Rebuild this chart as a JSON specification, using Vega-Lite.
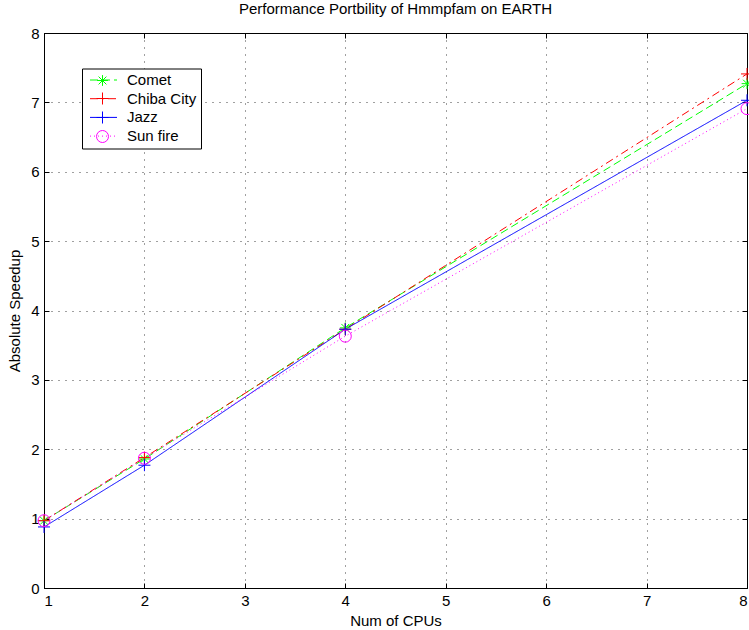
{
  "$schema": "https://vega.github.io/schema/vega-lite/v6.json",
  "width": 703,
  "height": 555,
  "autosize": {"type": "none"},
  "padding": {"left": 44, "top": 33, "right": 2, "bottom": 42},
  "title": {"text": "Performance Portbility of Hmmpfam on EARTH", "fontSize": 15, "fontWeight": "normal", "font": "Liberation Sans", "color": "black", "offset": 9},
  "config": {
    "view": {"stroke": "black", "strokeWidth": 1},
    "axis": {
      "labelFont": "Liberation Sans", "labelFontSize": 15, "labelColor": "black",
      "titleFont": "Liberation Sans", "titleFontSize": 15, "titleFontWeight": "normal", "titleColor": "black",
      "domainColor": "black", "tickColor": "black", "tickSize": -5,
      "gridColor": "black", "gridDash": [1, 6], "gridOpacity": 0.75
    }
  },
  "data": {
    "values": [
      {"cpus": 1, "speedup": 0.97, "series": "Comet", "series2": "Comet"},
      {"cpus": 2, "speedup": 1.86, "series": "Comet", "series2": "Comet"},
      {"cpus": 4, "speedup": 3.75, "series": "Comet", "series2": "Comet"},
      {"cpus": 8, "speedup": 7.27, "series": "Comet", "series2": "Comet"},
      {"cpus": 1, "speedup": 0.97, "series": "Chiba City", "series2": "Chiba City"},
      {"cpus": 2, "speedup": 1.88, "series": "Chiba City", "series2": "Chiba City"},
      {"cpus": 4, "speedup": 3.73, "series": "Chiba City", "series2": "Chiba City"},
      {"cpus": 8, "speedup": 7.41, "series": "Chiba City", "series2": "Chiba City"},
      {"cpus": 1, "speedup": 0.88, "series": "Jazz", "series2": "Jazz"},
      {"cpus": 2, "speedup": 1.77, "series": "Jazz", "series2": "Jazz"},
      {"cpus": 4, "speedup": 3.73, "series": "Jazz", "series2": "Jazz"},
      {"cpus": 8, "speedup": 7.03, "series": "Jazz", "series2": "Jazz"},
      {"cpus": 1, "speedup": 0.97, "series": "Sun fire", "series2": "Sun fire"},
      {"cpus": 2, "speedup": 1.87, "series": "Sun fire", "series2": "Sun fire"},
      {"cpus": 4, "speedup": 3.63, "series": "Sun fire", "series2": "Sun fire"},
      {"cpus": 8, "speedup": 6.91, "series": "Sun fire", "series2": "Sun fire"}
    ]
  },
  "layer": [
    {
      "mark": {"type": "line", "strokeWidth": 1},
      "encoding": {
        "x": {"field": "cpus", "type": "quantitative", "scale": {"domain": [1, 8], "nice": false},
          "axis": {"title": "Num of CPUs", "values": [1, 2, 3, 4, 5, 6, 7, 8], "grid": true, "labelPadding": 10, "titlePadding": 5}},
        "y": {"field": "speedup", "type": "quantitative", "scale": {"domain": [0, 8], "nice": false},
          "axis": {"title": "Absolute Speedup", "values": [0, 1, 2, 3, 4, 5, 6, 7, 8], "grid": true, "labelPadding": 10, "titlePadding": 8}},
        "color": {"field": "series", "type": "nominal",
          "scale": {"domain": ["Comet", "Chiba City", "Jazz", "Sun fire"], "range": ["#00ff00", "#ff0000", "#0000ff", "#ff00ff"]},
          "legend": {"orient": "none", "legendX": 38, "legendY": 35.5, "title": null, "padding": 4, "symbolOffset": 10, "labelOffset": 16, "rowPadding": 2.7,
            "labelFont": "Liberation Sans", "labelFontSize": 15, "labelColor": "black", "symbolSize": 144, "symbolStrokeWidth": 1,
            "symbolType": "M-2.25,0L2.25,0", "strokeColor": "black", "fillColor": "white", "zindex": 1}},
        "strokeDash": {"field": "series", "type": "nominal",
          "scale": {"domain": ["Comet", "Chiba City", "Jazz", "Sun fire"], "range": [[8, 4], [8, 4, 2, 4], [1, 0], [1, 3]]},
          "legend": {"orient": "none", "legendX": 38, "legendY": 35.5, "title": null, "padding": 4, "symbolOffset": 10, "labelOffset": 16, "rowPadding": 2.7,
            "labelFont": "Liberation Sans", "labelFontSize": 15, "labelColor": "black", "symbolSize": 144, "symbolStrokeWidth": 1,
            "symbolType": "M-2.25,0L2.25,0", "strokeColor": "black", "fillColor": "white", "zindex": 1}}
      }
    },
    {
      "mark": {"type": "point", "filled": false, "strokeWidth": 1, "size": 144, "opacity": 1},
      "encoding": {
        "x": {"field": "cpus", "type": "quantitative",
          "axis": {"orient": "top", "title": null, "labels": false, "grid": false, "domain": false, "values": [1, 2, 3, 4, 5, 6, 7, 8]}},
        "y": {"field": "speedup", "type": "quantitative",
          "axis": {"orient": "right", "title": null, "labels": false, "grid": false, "domain": false, "values": [0, 1, 2, 3, 4, 5, 6, 7, 8]}},
        "color": {"field": "series", "type": "nominal", "legend": null},
        "shape": {"field": "series2", "type": "nominal", "sort": ["Comet", "Chiba City", "Jazz", "Sun fire"],
          "scale": {"range": ["M-0.9,0L0.9,0M0,-0.9L0,0.9M-0.65,-0.65L0.65,0.65M-0.65,0.65L0.65,-0.65", "M-1,0L1,0M0,-1L0,1", "M-1,0L1,0M0,-1L0,1", "circle"]},
          "legend": {"orient": "none", "legendX": 38, "legendY": 37, "title": null, "padding": 4, "symbolOffset": 10, "labelOffset": 16, "rowPadding": 2,
            "labelFont": "Liberation Sans", "labelFontSize": 1, "labelExpr": "''", "symbolSize": 144, "symbolStrokeWidth": 1,
            "symbolFillColor": "transparent", "symbolStrokeColor": {"expr": "scale('color', datum.value)"}, "strokeColor": null, "zindex": 2}}
      }
    }
  ],
  "resolve": {"axis": {"x": "independent", "y": "independent"}}
}
